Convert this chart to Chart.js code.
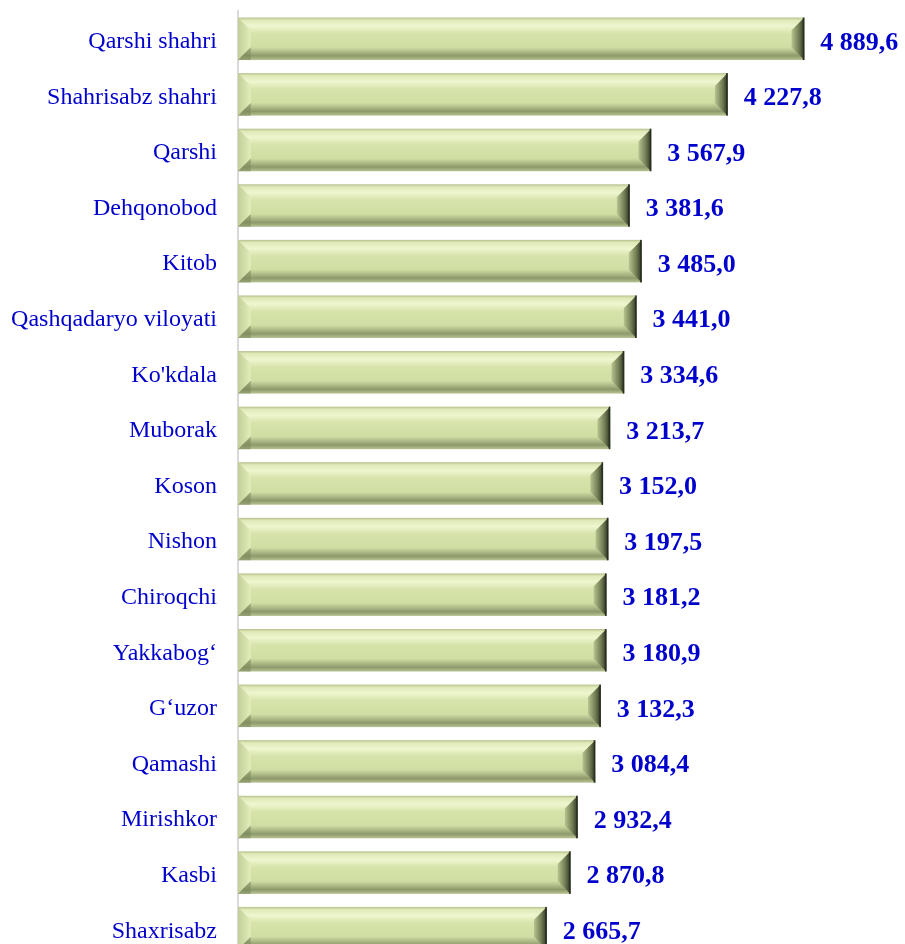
<!DOCTYPE html>
<html>
<head>
<meta charset="utf-8">
<script src="https://cdn.jsdelivr.net/npm/chart.js@4/dist/chart.umd.min.js"></script>
<style>
html,body{margin:0;padding:0;background:#fff;overflow:hidden;}
#wrap{width:905px;height:958px;position:relative;}
</style>
</head>
<body>
<div id="wrap"><canvas id="c" width="905" height="958"></canvas></div>
<script>
const categories = ["Qarshi shahri","Shahrisabz shahri","Qarshi","Dehqonobod","Kitob","Qashqadaryo viloyati","Ko'kdala","Muborak","Koson","Nishon","Chiroqchi","Yakkabog‘","G‘uzor","Qamashi","Mirishkor","Kasbi","Shaxrisabz"];
const values = [4889.6,4227.8,3567.9,3381.6,3485.0,3441.0,3334.6,3213.7,3152.0,3197.5,3181.2,3180.9,3132.3,3084.4,2932.4,2870.8,2665.7];

function fmt(v){
  const parts = v.toFixed(1).split('.');
  const int = parts[0].replace(/\B(?=(\d{3})+(?!\d))/g,' ');
  return int + ',' + parts[1];
}

const bevelPlugin = {
  id:'bevel',
  afterDatasetsDraw(chart){
    const ctx = chart.ctx;
    const meta = chart.getDatasetMeta(0);
    meta.data.forEach((bar,i)=>{
      const left = Math.min(bar.base, bar.x), right = Math.max(bar.base, bar.x);
      const top = bar.y - bar.height/2, bottom = bar.y + bar.height/2;
      const h = bottom-top, w = right-left;
      const b = Math.min(13, h*0.3);
      ctx.save();
      let g = ctx.createLinearGradient(0,top,0,bottom);
      g.addColorStop(0,'#b4c08c');
      g.addColorStop(0.06,'#dfe9b8');
      g.addColorStop(0.2,'#eef6cf');
      g.addColorStop(0.38,'#d6e3aa');
      g.addColorStop(0.7,'#d0dea4');
      g.addColorStop(0.82,'#a9b583');
      g.addColorStop(0.9,'#8d9969');
      g.addColorStop(1,'#b9c495');
      ctx.fillStyle = g;
      ctx.fillRect(left,top,w,h);
      let gl = ctx.createLinearGradient(left,0,left+b,0);
      gl.addColorStop(0,'#c2cf98');
      gl.addColorStop(1,'#e2edbb');
      ctx.beginPath();
      ctx.moveTo(left,top);ctx.lineTo(left+b,top+b);ctx.lineTo(left+b,bottom-b);ctx.lineTo(left,bottom);ctx.closePath();
      ctx.fillStyle = gl; ctx.fill();
      ctx.beginPath();
      ctx.moveTo(left,bottom);ctx.lineTo(left+b,bottom-b);ctx.lineTo(left+b,bottom);ctx.closePath();
      ctx.fillStyle='rgba(120,135,90,0.55)';ctx.fill();
      let gr = ctx.createLinearGradient(right-b,0,right,0);
      gr.addColorStop(0,'#b7c48f');
      gr.addColorStop(0.6,'#6f7a52');
      gr.addColorStop(1,'#2e3424');
      ctx.beginPath();
      ctx.moveTo(right,top);ctx.lineTo(right-b,top+b);ctx.lineTo(right-b,bottom-b);ctx.lineTo(right,bottom);ctx.closePath();
      ctx.fillStyle = gr; ctx.fill();
      ctx.fillStyle='#2a3020';
      ctx.fillRect(right-1.5,top,1.5,h);
      ctx.font = 'bold 26px "Liberation Serif", "Times New Roman", serif';
      ctx.fillStyle = '#0000CC';
      ctx.textAlign = 'left';
      ctx.textBaseline = 'middle';
      ctx.fillText(fmt(values[i]), right+16, bar.y+4);
      ctx.restore();
    });
  }
};

new Chart(document.getElementById('c'),{
  type:'bar',
  data:{labels:categories,datasets:[{data:values,backgroundColor:'rgba(0,0,0,0)',borderWidth:0,categoryPercentage:0.765,barPercentage:1}]},
  options:{
    indexAxis:'y',
    responsive:false,
    animation:false,
    layout:{padding:{top:11,bottom:2,right:30,left:0}},
    plugins:{legend:{display:false},tooltip:{enabled:false}},
    scales:{
      x:{display:false,min:0,max:5500},
      y:{
        afterFit(s){s.width=238;s.paddingTop=0;s.paddingBottom=0;},
        grid:{display:false,drawTicks:false},
        border:{display:true,color:'#d9d9d9',width:2},
        ticks:{color:'#0000CC',padding:21,labelOffset:3,font:{family:'"Liberation Serif", "Times New Roman", serif',size:24}}
      }
    }
  },
  plugins:[bevelPlugin]
});
</script>
</body>
</html>
